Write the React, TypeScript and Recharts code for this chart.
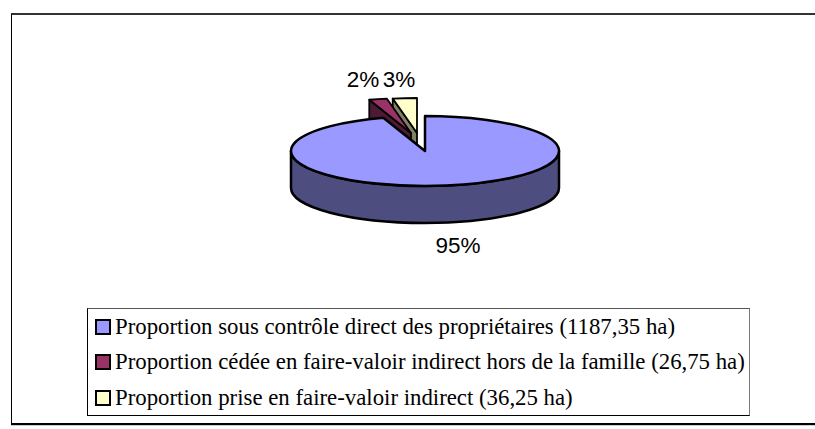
import { PieChart, Pie, Legend } from 'recharts';

const categories = [
  'Proportion sous contrôle direct des propriétaires (1187,35 ha)',
  'Proportion cédée en faire-valoir indirect hors de la famille (26,75 ha)',
  'Proportion prise en faire-valoir indirect (36,25 ha)',
];
const hectares = [1187.35, 26.75, 36.25];
const topColors = ['#9999ff', '#993366', '#ffffcc'];
const sideColors = ['#4d4d80', '#4d1a33', '#808066'];

// pixel shift of each slice from the pie centre, exploded ones sit up and left
const sliceShift = [
  { dx: 0, dy: 0 },
  { dx: -14, dy: -18 },
  { dx: -8, dy: -18 },
];
const labelSpot = [
  { dx: 33, dy: 94 },
  { dx: -62, dy: -72 },
  { dx: -26, dy: -72 },
];

const WIDTH = 815;
const HEIGHT = 429;
const CX = 425;
const CY = 151;
const RX = 134;
const SQUASH = 35 / 134;
const DEPTH = 37;

// reversed so the big slice is painted last and covers the exploded ones
const rows = categories
  .map((name, i) => ({ name, value: hectares[i], fill: topColors[i], idx: i }))
  .reverse();

// 3D look: the library gives the angles, the shape squashes them into an ellipse
const Slice3D = (props: any) => {
  const { cx, cy, outerRadius, startAngle, endAngle, payload } = props;
  const i = payload.idx;
  const ox = cx + sliceShift[i].dx;
  const oy = cy + sliceShift[i].dy;
  const pt = (deg: number, drop = 0) => {
    const a = (deg * Math.PI) / 180;
    return [ox + outerRadius * Math.cos(a), oy - outerRadius * SQUASH * Math.sin(a) + drop];
  };
  const ry = outerRadius * SQUASH;
  const a0 = Math.min(startAngle, endAngle);
  const a1 = Math.max(startAngle, endAngle);
  const large = a1 - a0 > 180 ? 1 : 0;
  const [sx, sy] = pt(a0);
  const [ex, ey] = pt(a1);
  const top = `M${ox},${oy} L${sx},${sy} A${outerRadius},${ry} 0 ${large} 0 ${ex},${ey} Z`;
  const common = { stroke: '#000', strokeWidth: i === 0 ? 2.5 : 1.8, strokeLinejoin: 'round' as const };

  // outer wall, only the front half of the ellipse shows (180..360 degrees)
  let wall = null;
  if (a1 > 360) {
    const [lx, ly] = pt(180);
    const [rx, ry2] = pt(360);
    wall = (
      <path
        {...common}
        fill={sideColors[i]}
        d={`M${lx},${ly} A${outerRadius},${ry} 0 0 0 ${rx},${ry2} L${rx},${ry2 + DEPTH} A${outerRadius},${ry} 0 0 1 ${lx},${ly + DEPTH} Z`}
      />
    );
  }
  // cut face on the left edge of the exploded slices
  const face =
    i > 0 ? (
      <path
        {...common}
        fill={sideColors[i]}
        d={`M${ox},${oy} L${ex},${ey} L${ex},${ey + DEPTH} L${ox},${oy + DEPTH} Z`}
      />
    ) : null;

  return (
    <g>
      {wall}
      {face}
      <path {...common} fill={payload.fill} d={top} />
    </g>
  );
};

const renderLabel = (props: any) => {
  const i = props.payload?.idx ?? props.idx;
  return (
    <text
      x={props.cx + labelSpot[i].dx}
      y={props.cy + labelSpot[i].dy}
      textAnchor="middle"
      dominantBaseline="central"
      fontFamily="Liberation Sans"
      fontSize={22.5}
      fill="#000"
    >
      {Math.round(props.percent * 100)}%
    </text>
  );
};

const LegendBox = () => (
  <div
    style={{
      width: 663,
      height: 108,
      boxSizing: 'border-box',
      borderLeft: '1px solid #000',
      borderBottom: '1px solid #000',
      borderTop: '1px solid #555',
      borderRight: '1px solid #777',
      fontFamily: 'Liberation Serif',
      fontSize: 22.8,
      color: '#000',
      background: '#fff',
    }}
  >
    {categories.map((name, i) => (
      <div key={name} style={{ display: 'flex', alignItems: 'center', height: 35.5, paddingLeft: 7, whiteSpace: 'nowrap' }}>
        <span
          style={{
            width: 16,
            height: 16,
            boxSizing: 'border-box',
            border: '2px solid #000',
            background: topColors[i],
            marginRight: 4,
          }}
        />
        {name}
      </div>
    ))}
  </div>
);

export default function App() {
  return (
    <div style={{ position: 'absolute', left: 0, top: 0, width: WIDTH, height: HEIGHT, background: '#fff' }}>
      <div
        style={{
          position: 'absolute',
          left: 11,
          top: 13,
          width: 804,
          height: 412,
          boxSizing: 'border-box',
          borderLeft: '1px solid #000',
          borderTop: '2px solid #333',
          borderBottom: '2px solid #000',
          boxShadow: '0 1px 0 #ccc',
        }}
      />
      <div style={{ position: 'absolute', left: 0, top: 0 }}>
        <PieChart width={WIDTH} height={HEIGHT} margin={{ top: 0, right: 0, bottom: 0, left: 0 }}>
          <Pie
            data={rows}
            dataKey="value"
            nameKey="name"
            cx={CX}
            cy={CY}
            outerRadius={RX}
            startAngle={90}
            endAngle={450}
            stroke="#000"
            label={renderLabel}
            labelLine={false}
            shape={Slice3D}
            isAnimationActive={false}
          />
          <Legend
            content={<LegendBox />}
            layout="vertical"
            wrapperStyle={{ left: 87, top: 308, width: 663, height: 108 }}
          />
        </PieChart>
      </div>
    </div>
  );
}
